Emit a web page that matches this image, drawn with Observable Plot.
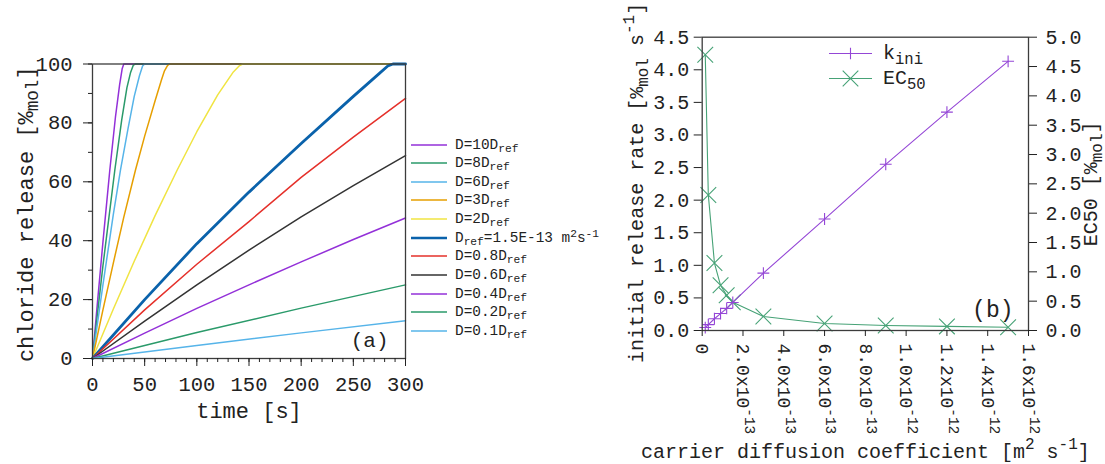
<!DOCTYPE html>
<html><head><meta charset="utf-8">
<script src="https://cdn.jsdelivr.net/npm/d3@7"></script>
<script src="https://cdn.jsdelivr.net/npm/@observablehq/plot@0.6"></script>
<style>
body{margin:0;background:#fff;width:1105px;height:464px;overflow:hidden;font-family:'Liberation Mono','Courier New','DejaVu Sans Mono',monospace;color:#222}
#wrap{position:relative;width:1105px;height:464px}
#pa{position:absolute;left:0;top:0;width:560px;height:464px}
#pb{position:absolute;left:560px;top:0;width:545px;height:464px}
#legA{position:absolute;left:411px;top:135.2px;z-index:2}
#legA .row{display:flex;align-items:center;height:18.65px;font-size:14.4px;white-space:nowrap}
#legA svg{display:block;margin-right:8px}
#legB{position:absolute;left:829px;top:40.5px;z-index:2}
#legB .row{display:flex;align-items:center;height:25px;font-size:20px;white-space:nowrap}
#legB svg{display:block;margin-right:11px}
sub{font-size:0.78em;vertical-align:-0.3em;line-height:0}
sup{font-size:0.78em;vertical-align:0.42em;line-height:0}
</style></head>
<body><div id="wrap"><div id="pa"></div><div id="pb"></div><div id="legA"></div><div id="legB"></div></div>
<script>
// ---------------- Panel (a) data: chloride release [%mol] vs time [s] ----------------
const timeTicks = [0, 50, 100, 150, 200, 250, 300];
const timeMinorTicks = [0, 10, 20, 30, 40, 50, 60, 70, 80, 90, 100, 110, 120, 130, 140, 150, 160, 170, 180, 190, 200, 210, 220, 230, 240, 250, 260, 270, 280, 290, 300];
const releaseTicks = [0, 20, 40, 60, 80, 100];
const releaseMinorTicks = [0, 10, 20, 30, 40, 50, 60, 70, 80, 90, 100];

// [time, release] points
const s10D  = [[0,0],[5,20],[10,39.5],[16.6,64],[22,82],[26,93],[28.5,98.5],[30,100],[300,100]];
const s8D   = [[0,0],[5,16],[10,31.5],[21.4,64],[28,81],[33,92],[36.4,97],[39,99.5],[41,100],[300,100]];
const s6D   = [[0,0],[10,25],[20,49],[26.8,64],[34,78],[40,89],[45,96],[48,99.3],[50,100],[300,100]];
const s3D   = [[0,0],[10,16.5],[20,32.5],[30,48],[41.2,64],[50,75.5],[60,87.5],[66,94.5],[69,97.7],[72,99.5],[74,100],[300,100]];
const s2D   = [[0,0],[20,16.8],[40,33],[60,48.5],[81.2,64],[100,77],[120,89.5],[135,97.3],[141,99.5],[144,100],[300,100]];
const sDref = [[0,0],[50,20],[100,39],[150,56.5],[200,73],[250,89],[275,96.8],[283,99.3],[288,100],[300,100]];
const s08D  = [[0,0],[50,16.5],[100,32],[150,46.5],[200,61.5],[250,75.2],[300,88.3]];
const s06D  = [[0,0],[50,12.7],[100,25],[150,36.8],[200,48.1],[250,58.7],[300,68.9]];
const s04D  = [[0,0],[50,8.6],[100,17],[150,25],[200,32.8],[250,40.4],[300,47.7]];
const s02D  = [[0,0],[100,8.8],[200,17.1],[300,25]];
const s01D  = [[0,0],[100,4.4],[200,8.7],[300,12.8]];

const seriesNames  = ["D=10D_{ref}","D=8D_{ref}","D=6D_{ref}","D=3D_{ref}","D=2D_{ref}","D_{ref}=1.5E-13 m^{2}s^{-1}","D=0.8D_{ref}","D=0.6D_{ref}","D=0.4D_{ref}","D=0.2D_{ref}","D=0.1D_{ref}"];
const seriesColors = ["#9330d8","#2a9a6a","#56b4e9","#e69f00","#f0e442","#0a62ab","#e5302a","#333333","#9330d8","#2a9a6a","#56b4e9"];
const seriesWidths = [1.5,1.5,1.5,1.5,1.5,2.8,1.5,1.5,1.5,1.5,1.5];
const seriesPoints = [s10D, s8D, s6D, s3D, s2D, sDref, s08D, s06D, s04D, s02D, s01D];

// ---------------- Panel (b) data ----------------
const diffCoef = [1.5e-14, 3e-14, 6e-14, 9e-14, 1.2e-13, 1.5e-13, 3e-13, 6e-13, 9e-13, 1.2e-12, 1.5e-12];
const kIni     = [0.045, 0.09, 0.18, 0.26, 0.34, 0.43, 0.88, 1.71, 2.55, 3.35, 4.13];
const ec50     = [4.70, 2.31, 1.15, 0.77, 0.60, 0.48, 0.24, 0.12, 0.085, 0.07, 0.056];
const diffTicks = [0, 2e-13, 4e-13, 6e-13, 8e-13, 1e-12, 1.2e-12, 1.4e-12, 1.6e-12];
const diffTickLabels = ["0","2.0x10^{-13}","4.0x10^{-13}","6.0x10^{-13}","8.0x10^{-13}","1.0x10^{-12}","1.2x10^{-12}","1.4x10^{-12}","1.6x10^{-12}"];
const rateTicks = [0, 0.5, 1, 1.5, 2, 2.5, 3, 3.5, 4, 4.5];
const ec50Ticks = [0, 0.5, 1, 1.5, 2, 2.5, 3, 3.5, 4, 4.5, 5];
const rateMax = 4.5, ec50Max = 5.0;
const legendB = ["k_{ini}", "EC_{50}"];
const kColor = "#9446d6", eColor = "#46a276";

const mono = "'Liberation Mono','Courier New','DejaVu Sans Mono',monospace";
const frameColor = "#3c3c3c";

// ---------- helpers ----------
function richify(root) {
  const ns = "http://www.w3.org/2000/svg";
  root.querySelectorAll("text").forEach(el => {
    const targets = el.querySelector("tspan") ? [...el.querySelectorAll("tspan")] : [el];
    targets.forEach(node => {
      const s = node.textContent;
      if (!/[_^]\{/.test(s)) return;
      const F = parseFloat(getComputedStyle(node).fontSize) || 20;
      node.textContent = "";
      const re = /([_^])\{([^}]*)\}/g;
      let last = 0, m, offset = 0;
      const add = (txt, target, small) => {
        const ts = document.createElementNS(ns, "tspan");
        const dy = target - offset;
        if (dy) ts.setAttribute("dy", dy.toFixed(2));
        offset = target;
        if (small) ts.setAttribute("font-size", (F * 0.8).toFixed(2));
        ts.textContent = txt;
        node.appendChild(ts);
      };
      while ((m = re.exec(s))) {
        if (m.index > last) add(s.slice(last, m.index), 0, false);
        add(m[2], m[1] === "_" ? 0.25 * F : -0.42 * F, true);
        last = re.lastIndex;
      }
      if (last < s.length) add(s.slice(last), 0, false);
    });
  });
}
const toHTML = s => s.replace(/_\{([^}]*)\}/g, "<sub>$1</sub>").replace(/\^\{([^}]*)\}/g, "<sup>$1</sup>");
const lab = (txt, opts) => Plot.text([txt], {text: d => d, textAnchor: "middle", lineAnchor: "middle", ...opts});

// ---------- Panel (a) ----------
const plotA = Plot.plot({
  width: 560, height: 464,
  marginLeft: 92, marginRight: 155, marginTop: 63.5, marginBottom: 106,
  x: {domain: [0, 300]},
  y: {domain: [0, 100]},
  style: {fontFamily: mono, fontSize: "20px", color: "#222", background: "transparent", overflow: "visible"},
  marks: [
    ...seriesPoints.map((pts, k) => Plot.line(pts, {x: d => d[0], y: d => d[1], stroke: seriesColors[k], strokeWidth: seriesWidths[k]})),
    Plot.frame({stroke: frameColor, strokeWidth: 1.3}),
    Plot.axisX(timeTicks, {tickSize: 8, tickPadding: 10, fontSize: 20.5, label: null}),
    Plot.axisX(timeMinorTicks, {tickSize: 4, fill: "none", label: null}),
    Plot.axisY(releaseTicks, {tickSize: 9, tickPadding: 11, fontSize: 20.5, label: null}),
    Plot.axisY(releaseMinorTicks, {tickSize: 4, fill: "none", label: null}),
    lab("chloride release [%_{mol}]", {frameAnchor: "left", rotate: -90, dx: -67, dy: 3, fontSize: 22}),
    lab("time [s]", {frameAnchor: "bottom", dy: 52, fontSize: 22}),
    lab("(a)", {frameAnchor: "bottom-right", textAnchor: "end", dx: -17, dy: -18, fontSize: 21})
  ]
});
document.getElementById("pa").appendChild(plotA);
richify(plotA);

// ---------- Panel (b) ----------
const ratio = rateMax / ec50Max;
const rowsB = diffCoef.map((D, i) => ({D, kini: kIni[i], ec: ec50[i] * ratio}));
const plotB = Plot.plot({
  width: 545, height: 464,
  marginLeft: 141.7, marginRight: 77, marginTop: 36.7, marginBottom: 134,
  x: {domain: [0, 1.6e-12]},
  y: {domain: [0, rateMax]},
  style: {fontFamily: mono, fontSize: "20px", color: "#222", background: "transparent", overflow: "visible"},
  marks: [
    Plot.line(rowsB, {x: "D", y: "ec", stroke: eColor, strokeWidth: 1.1}),
    Plot.dot(rowsB, {x: "D", y: "ec", symbol: "times", r: 7.2, stroke: eColor, strokeWidth: 1.1}),
    Plot.line(rowsB, {x: "D", y: "kini", stroke: kColor, strokeWidth: 1.1}),
    Plot.dot(rowsB, {x: "D", y: "kini", symbol: "plus", r: 3.9, stroke: kColor, strokeWidth: 1.1}),
    Plot.frame({stroke: frameColor, strokeWidth: 1.3}),
    Plot.axisY(rateTicks, {anchor: "left", tickSize: 8, tickPadding: 5, fontSize: 20, tickFormat: d => d.toFixed(1), label: null}),
    Plot.axisY(ec50Ticks.map(v => v * ratio), {anchor: "right", tickSize: 8, tickPadding: 9, fontSize: 20, tickFormat: d => (d / ratio).toFixed(1), label: null}),
    Plot.axisX(diffTicks, {anchor: "bottom", tickSize: 6, tickPadding: 7, tickRotate: 90, fontSize: 18, tickFormat: d => diffTickLabels[diffTicks.indexOf(d)], label: null}),
    lab("initial release rate [%_{mol} s^{-1}]", {frameAnchor: "left", rotate: -90, dx: -66, dy: -1, fontSize: 20}),
    lab("EC50 [%_{mol}]", {frameAnchor: "right", rotate: -90, dx: 62, dy: 0, fontSize: 20}),
    lab("carrier diffusion coefficient [m^{2} s^{-1}]", {frameAnchor: "bottom", dy: 120.6, fontSize: 20}),
    lab("(b)", {frameAnchor: "bottom-right", textAnchor: "end", dx: -15, dy: -20.4, fontSize: 23})
  ]
});
document.getElementById("pb").appendChild(plotB);
richify(plotB);

// ---------- Legends ----------
const legA = document.getElementById("legA");
seriesNames.forEach((name, k) => {
  const row = document.createElement("div");
  row.className = "row";
  row.innerHTML = `<svg width="36" height="18" viewBox="0 0 36 18"><line x1="0" x2="36" y1="9" y2="9" stroke="${seriesColors[k]}" stroke-width="${seriesWidths[k] === 1.5 ? 1.3 : 2.4}"/></svg><span>${toHTML(name)}</span>`;
  legA.appendChild(row);
});
const legB = document.getElementById("legB");
const markerPaths = ["M-5.8,0H5.8M0,-5.8V5.8", "M-7.8,-7.8L7.8,7.8M-7.8,7.8L7.8,-7.8"];
const legColors = [kColor, eColor];
legendB.forEach((name, k) => {
  const row = document.createElement("div");
  row.className = "row";
  row.innerHTML = `<svg width="43" height="25" viewBox="0 0 43 25"><line x1="0" x2="43" y1="12.5" y2="12.5" stroke="${legColors[k]}" stroke-width="1.1"/><path transform="translate(21.5,12.5)" d="${markerPaths[k]}" stroke="${legColors[k]}" stroke-width="1.1" fill="none"/></svg><span>${toHTML(name)}</span>`;
  legB.appendChild(row);
});
</script>
</body></html>
